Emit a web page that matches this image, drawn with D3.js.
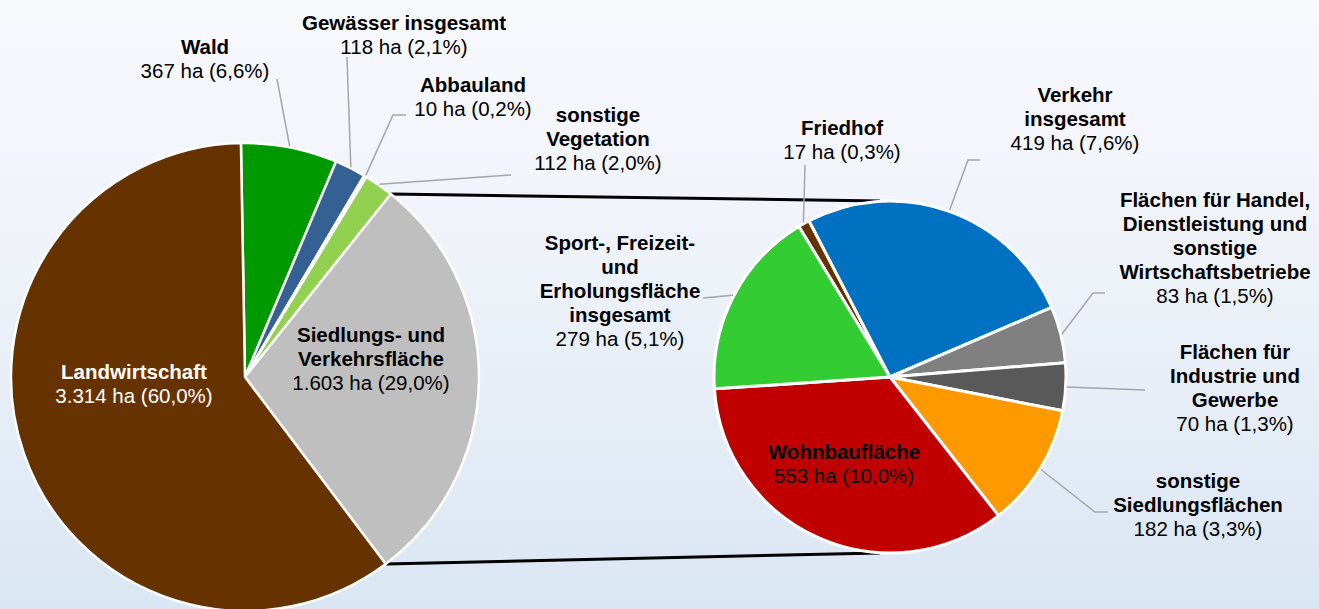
<!DOCTYPE html>
<html>
<head>
<meta charset="utf-8">
<script src="https://cdn.jsdelivr.net/npm/d3@7"></script>
<style>
  body { margin: 0; }
  text { font-family: "Liberation Sans", Arial, sans-serif; font-size: 20.5px; }
</style>
</head>
<body>
<div id="chart"></div>
<script>
// main pie (clockwise from 12 o'clock)
var mainNames = ["Wald", "Gewässer insgesamt", "Abbauland", "sonstige Vegetation", "Siedlungs- und Verkehrsfläche", "Landwirtschaft"];
var mainLines = [["Wald"], ["Gewässer insgesamt"], ["Abbauland"], ["sonstige", "Vegetation"], ["Siedlungs- und", "Verkehrsfläche"], ["Landwirtschaft"]];
var mainValues = [367, 118, 10, 112, 1603, 3314];
var mainColors = ["#009900", "#356094", "#ffffff", "#92d050", "#bfbfbf", "#663300"];

// secondary pie: breakdown of Siedlungs- und Verkehrsfläche
var subNames = ["Friedhof", "Verkehr insgesamt", "Flächen für Handel, Dienstleistung und sonstige Wirtschaftsbetriebe",
  "Flächen für Industrie und Gewerbe", "sonstige Siedlungsflächen", "Wohnbaufläche", "Sport-, Freizeit- und Erholungsfläche insgesamt"];
var subLines = [["Friedhof"], ["Verkehr", "insgesamt"], ["Flächen für Handel,", "Dienstleistung und", "sonstige", "Wirtschaftsbetriebe"],
  ["Flächen für", "Industrie und", "Gewerbe"], ["sonstige", "Siedlungsflächen"], ["Wohnbaufläche"],
  ["Sport-, Freizeit-", "und", "Erholungsfläche", "insgesamt"]];
var subValues = [17, 419, 83, 70, 182, 553, 279];
var subColors = ["#663300", "#0070c0", "#808080", "#595959", "#ff9900", "#c00000", "#33cc33"];

// label layout (first line centre) and leader elbows
var mainLabelPos = [[205, 47], [404, 23], [473, 85], [598, 115], [371, 335], [134, 372]];
var mainLeader = [[[277, 79]], [[347, 57]], [[393, 115], [406, 115]], [[511, 175]], null, null];
var subLabelPos = [[842, 128], [1075, 95], [1215, 200], [1235, 352], [1198, 481], [844, 452], [620, 243]];
var subLeader = [[[805, 165]], [[968, 160], [980, 160]], [[1093, 293], [1105, 293]], [[1145, 390]],
  [[1095, 512], [1108, 512]], null, [[703, 298]]];

var W = 1319, H = 609;
var cx1 = 245, cy1 = 377, r1 = 234;
var cx2 = 890, cy2 = 377, r2 = 176;
var lineH = 24;

var de = d3.formatLocale({ decimal: ",", thousands: ".", grouping: [3], currency: ["", " €"] });
var fmtNum = de.format(",d");
var fmtPct = de.format(".1%");
var total = d3.sum(mainValues);

var svg = d3.select("#chart").append("svg").attr("width", W).attr("height", H);

var grad = svg.append("defs").append("linearGradient")
  .attr("id", "bg").attr("x1", 0).attr("y1", 0).attr("x2", 0).attr("y2", 1);
grad.append("stop").attr("offset", "0%").attr("stop-color", "#f8f9fd");
grad.append("stop").attr("offset", "45%").attr("stop-color", "#eef2f9");
grad.append("stop").attr("offset", "100%").attr("stop-color", "#dae6f3");
svg.append("rect").attr("width", W).attr("height", H).attr("fill", "url(#bg)");

var rad = Math.PI / 180;
var pie1 = d3.pie().sort(null).startAngle(-1 * rad).endAngle(359 * rad);
var pie2 = d3.pie().sort(null).startAngle(-31.2 * rad).endAngle(328.8 * rad);
var arc1 = d3.arc().innerRadius(0).outerRadius(r1);
var arc2 = d3.arc().innerRadius(0).outerRadius(r2);

var arcs1 = pie1(mainValues);
var arcs2 = pie2(subValues);

function pt(cx, cy, r, a) { return [cx + r * Math.sin(a), cy - r * Math.cos(a)]; }

// connector lines
var split = arcs1[4];
var p1 = pt(cx1, cy1, r1, split.startAngle), p2 = pt(cx1, cy1, r1, split.endAngle);
svg.append("line").attr("x1", p1[0]).attr("y1", p1[1]).attr("x2", cx2 - 10).attr("y2", cy2 - r2)
  .attr("stroke", "#000").attr("stroke-width", 3);
svg.append("line").attr("x1", p2[0]).attr("y1", p2[1]).attr("x2", cx2 - 10).attr("y2", cy2 + r2)
  .attr("stroke", "#000").attr("stroke-width", 3);

// pies
svg.append("g").attr("transform", "translate(" + cx1 + "," + cy1 + ")")
  .selectAll("path").data(arcs1).enter().append("path")
  .attr("d", arc1).attr("fill", function(d, i) { return mainColors[i]; })
  .attr("stroke", "#fff").attr("stroke-width", 2.5).attr("stroke-linejoin", "round");

svg.append("g").attr("transform", "translate(" + cx2 + "," + cy2 + ")")
  .selectAll("path").data(arcs2).enter().append("path")
  .attr("d", arc2).attr("fill", function(d, i) { return subColors[i]; })
  .attr("stroke", "#fff").attr("stroke-width", 3).attr("stroke-linejoin", "round");

// leaders
function leaders(arcs, cx, cy, r, elbows) {
  arcs.forEach(function(d, i) {
    if (!elbows[i]) return;
    var mid = (d.startAngle + d.endAngle) / 2;
    var pts = [pt(cx, cy, r + 1, mid)].concat(elbows[i]);
    svg.append("path").attr("d", d3.line()(pts))
      .attr("fill", "none").attr("stroke", "#a6a6a6").attr("stroke-width", 1.5);
  });
}
leaders(arcs1, cx1, cy1, r1, mainLeader);
leaders(arcs2, cx2, cy2, r2, subLeader);

// labels
function labels(lines, values, pos, colorFn) {
  lines.forEach(function(ls, i) {
    var t = svg.append("text").attr("text-anchor", "middle").attr("fill", colorFn(i));
    ls.forEach(function(s, j) {
      t.append("tspan").attr("x", pos[i][0]).attr("y", pos[i][1] + j * lineH).attr("dy", "0.35em")
        .attr("font-weight", "bold").text(s);
    });
    t.append("tspan").attr("x", pos[i][0]).attr("y", pos[i][1] + ls.length * lineH).attr("dy", "0.35em")
      .text(fmtNum(values[i]) + " ha (" + fmtPct(values[i] / total) + ")");
  });
}
labels(mainLines, mainValues, mainLabelPos, function(i) { return i === 5 ? "#fff" : "#000"; });
labels(subLines, subValues, subLabelPos, function() { return "#000"; });
</script>
</body>
</html>
